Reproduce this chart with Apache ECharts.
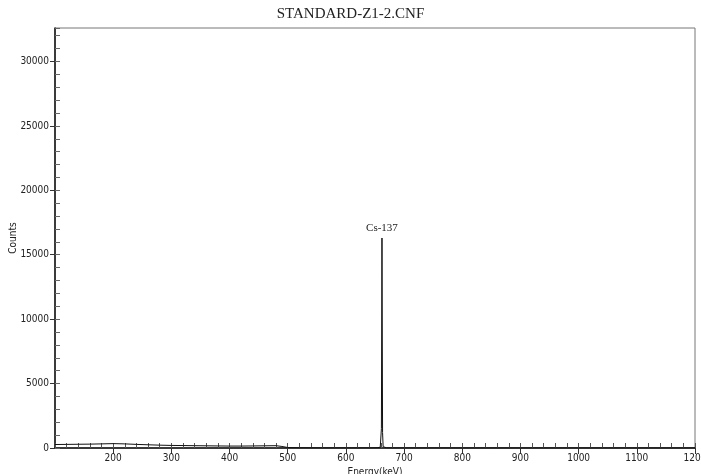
<!DOCTYPE html>
<html>
<head>
<meta charset="utf-8">
<script src="https://cdn.jsdelivr.net/npm/echarts@6/dist/echarts.min.js"></script>
<style>html,body{margin:0;padding:0;background:#fff}#c{width:701px;height:474px}</style>
</head>
<body>
<div id="c"></div>
<script>
const titleText = 'STANDARD-Z1-2.CNF';
const xName = 'Energy(keV)';
const yName = 'Counts';
const peakLabel = 'Cs-137';
const energy = [100,120,140,160,180,200,220,240,260,280,300,320,340,360,380,400,420,440,460,480,490,500,520,540,560,580,600,620,640,650,655,659,660,661,662,663,664,666,670,680,700,750,800,850,900,950,1000,1050,1100,1150,1200];
const counts = [270,280,290,300,320,340,320,280,250,220,200,190,180,170,160,150,150,160,170,180,120,40,20,15,10,10,8,8,10,15,30,60,150,1500,16300,1200,100,40,15,8,5,4,3,3,2,2,2,2,1,1,1];
const xMin = 100, xMax = 1200, yMin = 0, yMax = 32600;

const peakIdx = counts.indexOf(Math.max(...counts));
const data = energy.map((e, i) => {
  const item = { value: [e, counts[i]] };
  if (i === peakIdx) {
    item.label = { show: true, position: 'top', distance: 4, formatter: peakLabel,
      fontFamily: 'Liberation Serif', fontSize: 11, color: '#222' };
  }
  return item;
});

const labelFont = { fontFamily: "'Liberation Sans Narrow','DejaVu Sans Condensed',sans-serif", fontSize: 10, color: '#222' };
const plain = v => String(v);
const chart = echarts.init(document.getElementById('c'), null, { renderer: 'canvas' });
chart.setOption({
  animation: false,
  backgroundColor: '#fff',
  title: { text: titleText, left: 'center', top: 2,
    textStyle: { fontFamily: 'Liberation Serif', fontWeight: 'normal', fontSize: 15, color: '#222' } },
  grid: { left: 55, right: 6, top: 28, bottom: 26, containLabel: false, outerBoundsMode: 'none',
    show: true, borderColor: '#777', borderWidth: 1 },
  xAxis: [
    { type: 'value', min: xMin, max: xMax, interval: 100, position: 'bottom',
      name: xName, nameLocation: 'middle', nameGap: 19, nameMoveOverlap: false, nameTextStyle: labelFont,
      axisLine: { onZero: false, lineStyle: { color: '#111', width: 1.5 } },
      axisTick: { show: true, length: 6, lineStyle: { color: '#333' } },
      axisLabel: Object.assign({ margin: 5, showMinLabel: false, formatter: plain }, labelFont),
      splitLine: { show: false } },
    { type: 'value', min: xMin, max: xMax, interval: 20, position: 'bottom', offset: 0,
      axisLine: { show: false, onZero: false },
      axisTick: { show: true, inside: true, length: 5, lineStyle: { color: '#555' } },
      axisLabel: { show: false }, splitLine: { show: false } }
  ],
  yAxis: [
    { type: 'value', min: yMin, max: yMax, interval: 5000, position: 'left',
      name: yName, nameLocation: 'middle', nameGap: 37, nameMoveOverlap: false, nameTextStyle: labelFont,
      axisLine: { onZero: false, lineStyle: { color: '#111', width: 1.5 } },
      axisTick: { show: true, length: 5, lineStyle: { color: '#333' } },
      axisLabel: Object.assign({ margin: 6, showMaxLabel: false, formatter: plain }, labelFont),
      splitLine: { show: false } },
    { type: 'value', min: yMin, max: yMax, interval: 1000, position: 'left', offset: 0,
      axisLine: { show: false, onZero: false },
      axisTick: { show: true, inside: true, length: 5, lineStyle: { color: '#666' } },
      axisLabel: { show: false }, splitLine: { show: false } }
  ],
  series: [{
    type: 'line', xAxisIndex: 0, yAxisIndex: 0, data: data,
    showSymbol: true, symbol: 'circle', symbolSize: 0.01, lineStyle: { color: '#111', width: 1 },
    itemStyle: { color: '#111' }, emphasis: { disabled: true }
  }]
});
</script>
</body>
</html>
